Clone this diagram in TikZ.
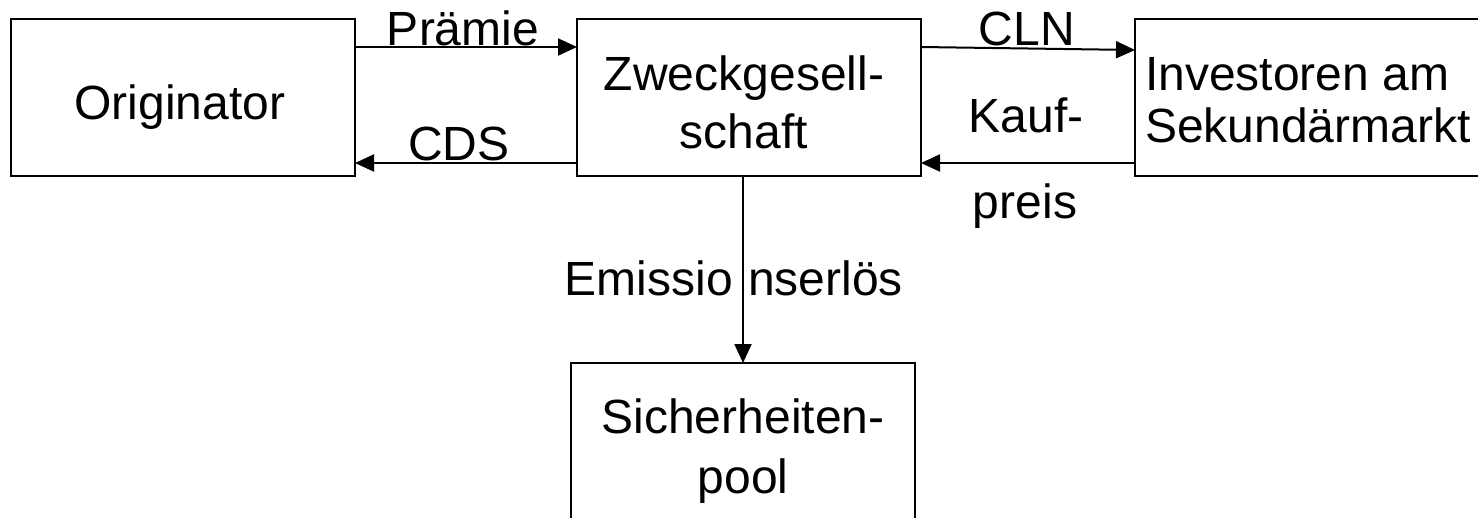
\documentclass[tikz,border=0pt]{standalone}
\usepackage{fontspec}
\setmainfont{Liberation Sans}
\usetikzlibrary{arrows.meta}
\begin{document}
\begin{tikzpicture}[x=1pt,y=-1pt,
  box/.style={draw=black,line width=2.4pt,minimum width=344pt,minimum height=157pt,inner sep=0pt,outer sep=0pt},
  txt/.style={font=\fontsize{48}{58}\selectfont,inner sep=0pt,anchor=base},
  arr/.style={line width=2pt,-{Triangle[length=19pt,width=17pt]}}]
\useasboundingbox (0,0) rectangle (1478,517);
\clip (0,0) rectangle (1478,517);
\fill[white] (0,0) rectangle (1478,517);
% boxes
\node[box] (orig) at (183,97.5) {};
\node[box] (zweck) at (749,97.5) {};
\node[box] (inv) at (1307,97.5) {};
\node[box,minimum height=174pt] (pool) at (743,450) {};
% box texts
\node[txt] (origtxt) at (180,119) {Originator};
\node[txt] (zweck1) at (744,90) {Zweckgesell-};
\node[txt] (zweck2) at (744,148) {schaft};
\node[txt,anchor=base west] (inv1) at (1145,90) {Investoren am};
\node[txt,anchor=base west] (inv2) at (1145,142) {Sekundärmarkt};
\node[txt] (pool1) at (743,433) {Sicherheiten-};
\node[txt] (pool2) at (743,493) {pool};
% connectors
\draw[arr] ([yshift=-28pt]orig.north east) -- ([yshift=-28pt]zweck.north west);
\draw[arr] ([yshift=13pt]zweck.south west) -- ([yshift=13pt]orig.south east);
\draw[arr] ([yshift=-28pt]zweck.north east) -- ([yshift=-31pt]inv.north west);
\draw[arr] ([yshift=13pt]inv.south west) -- ([yshift=13pt]zweck.south east);
\draw[arr] (zweck.south -| pool.north) -- (pool.north);
% connector labels
\node[txt] (lpraemie) at (463,45) {Prämie};
\node[txt] (lcds) at (459,160) {CDS};
\node[txt] (lcln) at (1027,45) {CLN};
\node[txt] (lkauf) at (1026,132) {Kauf-};
\node[txt] (lpreis) at (1025,218) {preis};
\node[txt,anchor=base east] (lemi1) at (733,295) {Emissio};
\node[txt,anchor=base west] (lemi2) at (748,295) {nserlös};
\end{tikzpicture}
\end{document}
